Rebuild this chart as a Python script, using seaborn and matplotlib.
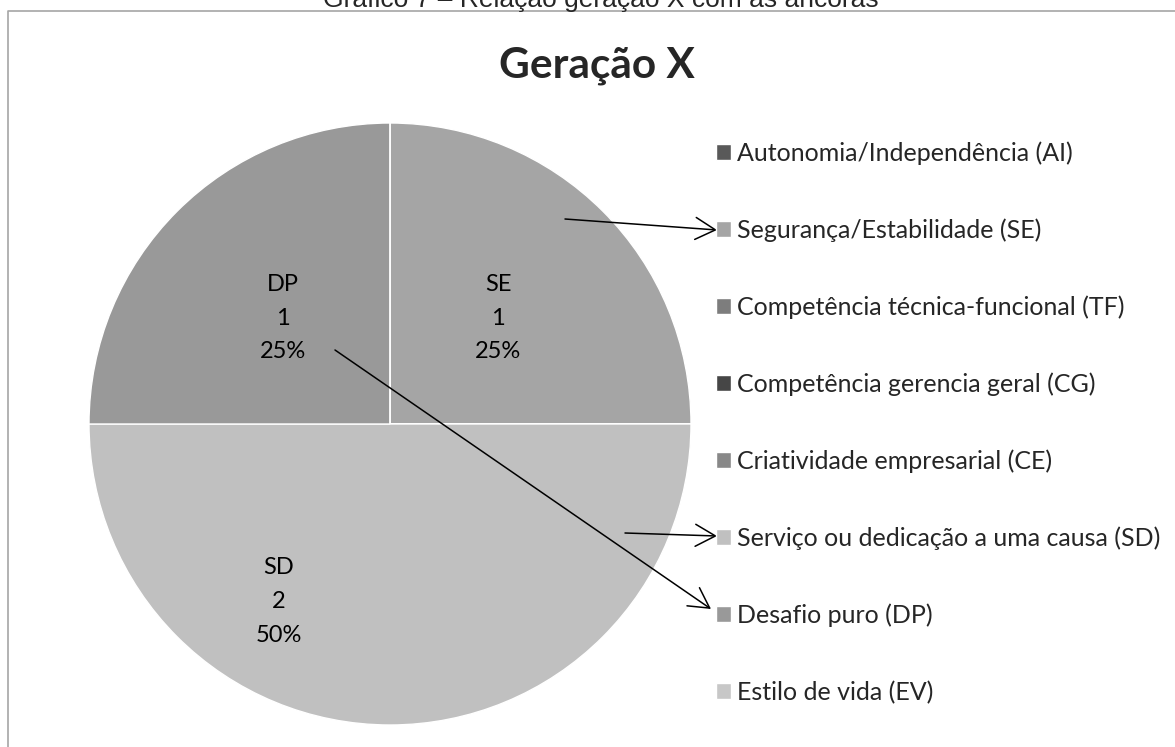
import matplotlib
matplotlib.use("Agg")
import matplotlib.pyplot as plt
from matplotlib.lines import Line2D
from matplotlib.patches import FancyArrowPatch
import seaborn as sns

# anchors (legend order) and counts for Geração X
categories = ["Autonomia/Independência (AI)", "Segurança/Estabilidade (SE)",
              "Competência técnica-funcional (TF)", "Competência gerencia geral (CG)",
              "Criatividade empresarial (CE)", "Serviço ou dedicação a uma causa (SD)",
              "Desafio puro (DP)", "Estilo de vida (EV)"]
codes = ["AI", "SE", "TF", "CG", "CE", "SD", "DP", "EV"]
counts = [0, 1, 0, 0, 0, 2, 1, 0]
colors = ["#595959", "#A5A5A5", "#7D7D7D", "#464646",
          "#888888", "#C0C0C0", "#999999", "#C7C7C7"]

# where the data labels sit (axes data units, pie radius = 1)
label_pos = {"SE": (0.36, 0.352), "SD": (-0.37, -0.59), "DP": (-0.355, 0.352)}

sns.set_theme(style="white")
plt.rcParams["font.family"] = ["Lato", "DejaVu Sans"]

W, H = 1175, 747
fig = plt.figure(figsize=(W / 100, H / 100), dpi=100)

def fx(px):
    return px / W

def fy(py):
    return (H - py) / H

# frame of the chart area (only left and top edges are inside the picture)
fig.add_artist(Line2D([fx(8), fx(8), fx(W + 5)], [fy(H + 5), fy(11), fy(11)],
                      color="#A6A6A6", lw=1.2, transform=fig.transFigure))

fig.text(fx(601), fy(7), "Gráfico 7 – Relação geração X com as âncoras",
         family="Liberation Sans", fontsize=19, ha="center", va="baseline")
fig.text(fx(597), fy(66), "Geração X", fontsize=30.5, fontweight="bold",
         ha="center", va="center")

# pie axes: centre (390, 424), radius 301 px
cx, cy, r = 390, 424, 301
ax = fig.add_axes([fx(cx - r), fy(cy + r), 2 * r / W, 2 * r / H])
wedges, _ = ax.pie(counts, colors=colors, startangle=90, counterclock=False,
                   wedgeprops=dict(edgecolor="white", linewidth=1))
ax.set_xlim(-1, 1)
ax.set_ylim(-1, 1)
ax.set_aspect("equal")
ax.axis("off")

total = sum(counts)
for code, n in zip(codes, counts):
    if n == 0:
        continue
    x, y = label_pos[code]
    ax.text(x, y, f"{code}\n{n}\n{n / total:.0%}", ha="center", va="center",
            fontsize=17, linespacing=1.75, color="black")

fig.legend(wedges, categories, loc="upper left",
           bbox_to_anchor=(fx(716), fy(141)), bbox_transform=fig.transFigure,
           frameon=False, borderpad=0, borderaxespad=0, fontsize=18,
           handlelength=0.6, handleheight=0.6, handletextpad=0.25,
           labelspacing=2.14)

# arrows from the slices to their legend entries (figure pixels)
arrows = [((565, 219), (717, 230)),
          ((625, 533), (717, 536)),
          ((335, 350), (711, 609))]
for (x0, y0), (x1, y1) in arrows:
    fig.add_artist(FancyArrowPatch(
        (fx(x0), fy(y0)), (fx(x1), fy(y1)), transform=fig.transFigure,
        arrowstyle="->,head_length=0.6,head_width=0.33", mutation_scale=24,
        shrinkA=0, shrinkB=0, lw=1.1, color="black"))

fig.savefig("out.png", dpi=100)
